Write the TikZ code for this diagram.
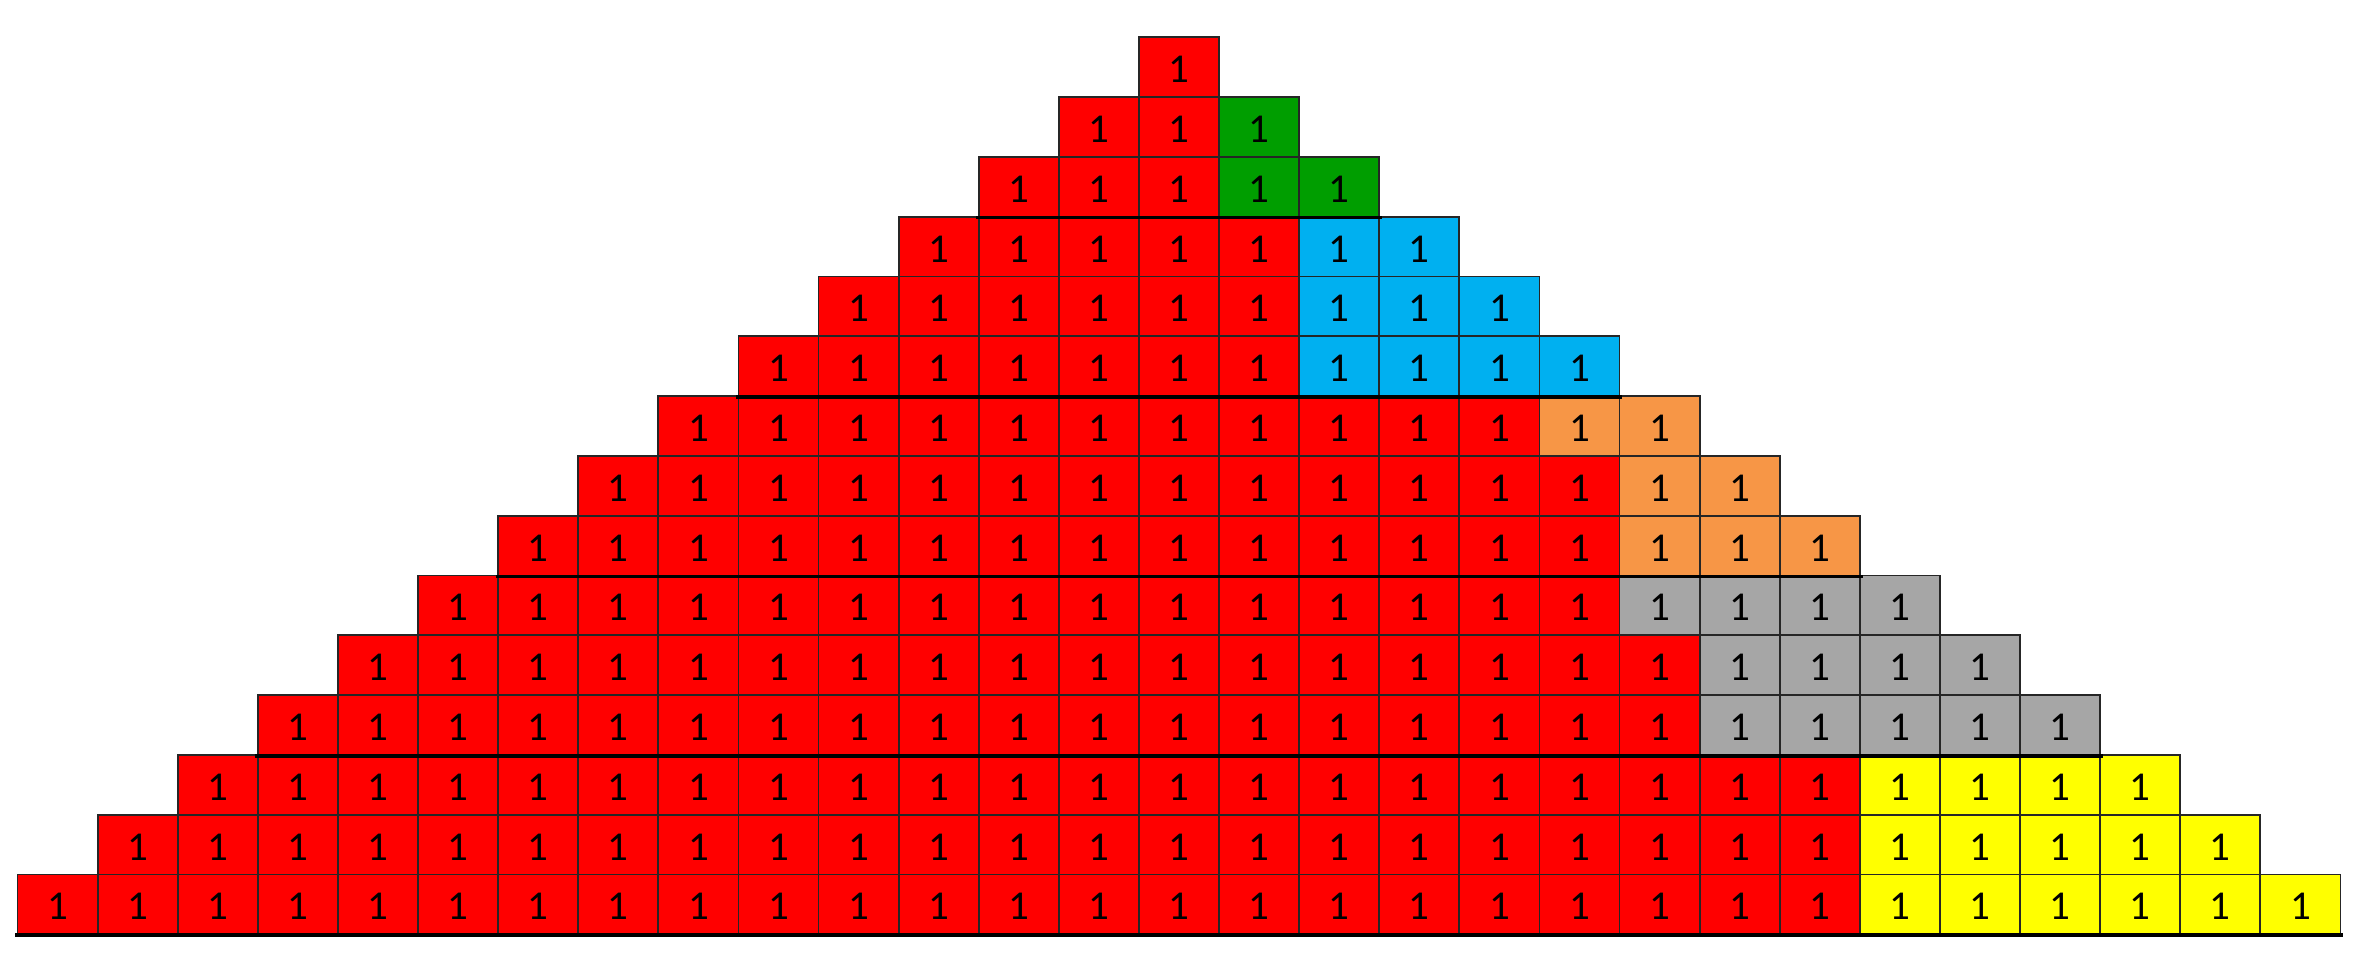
\documentclass[tikz,border=0pt]{standalone}
\usepackage{fontspec}
\setmainfont{Carlito}
\definecolor{cred}{HTML}{FF0000}
\definecolor{cgreen}{HTML}{009E00}
\definecolor{cblue}{HTML}{00B0F0}
\definecolor{corange}{HTML}{F79646}
\definecolor{cgray}{HTML}{A6A6A6}
\definecolor{cyellow}{HTML}{FFFF00}
\begin{document}
\begin{tikzpicture}[x=1pt,y=-1pt,
  cell/.style={draw=black!85, line width=1.8pt, rectangle, inner sep=0pt,
    minimum width=80.1pt, minimum height=59.8pt,
    font=\fontsize{41}{48}\selectfont, text height=31pt, text depth=0pt, text=black},
  groupline/.style={line width=3.5pt, draw=black, line cap=rect}]
\useasboundingbox (0,0) rectangle (2370,968);
\foreach \r/\s/\cc in {1/99/cred, 2/1/cgreen, 3/1/cgreen, 4/2/cblue, 5/2/cblue, 6/2/cblue,
    7/5/corange, 8/6/corange, 9/6/corange, 10/6/cgray, 11/7/cgray, 12/7/cgray,
    13/9/cyellow, 14/9/cyellow, 15/9/cyellow}{
  \pgfmathtruncatemacro\nc{2*\r-1}
  \foreach \c in {1,...,\nc}{
    \pgfmathtruncatemacro\k{\c-\r}
    \ifnum\k<\s \def\fc{cred}\else\edef\fc{\cc}\fi
    \node[cell, fill=\fc] (c-\r-\c) at ({1179+\k*80.1},{37.3+(\r-0.5)*59.8}) {1};
  }
}
\foreach \r in {3,6,9,12,15}{
  \pgfmathtruncatemacro\nc{2*\r-1}
  \draw[groupline] (c-\r-1.south west) -- (c-\r-\nc.south east);
}
\end{tikzpicture}
\end{document}
